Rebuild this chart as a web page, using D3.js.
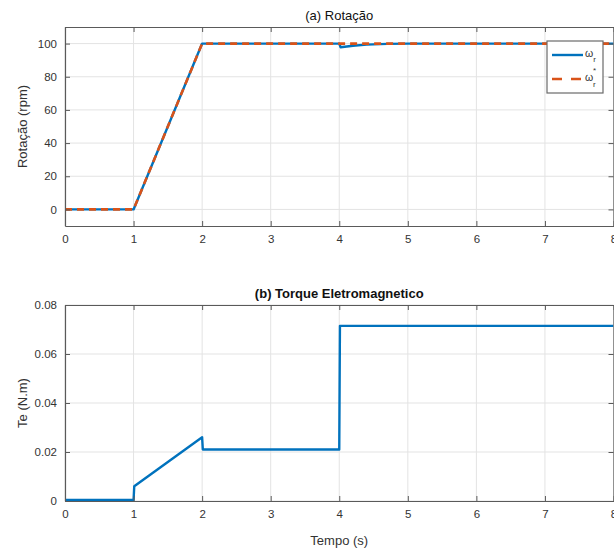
<!DOCTYPE html>
<html>
<head>
<meta charset="utf-8">
<script src="https://cdn.jsdelivr.net/npm/d3@7"></script>
<style>
  body { margin: 0; background: #fff; }
  svg { display: block; font-family: "Liberation Sans", Arial, sans-serif; }
</style>
</head>
<body>
<div id="chart"></div>
<script>
// Data
const xTicks = [0, 1, 2, 3, 4, 5, 6, 7, 8];
const rotTicks = [0, 20, 40, 60, 80, 100];
const teTicks = [0, 0.02, 0.04, 0.06, 0.08];

const rotTime = [0, 1, 2, 4, 4.02, 4.2, 4.4, 4.7, 5, 8];
const rotSpeed = [0, 0, 100, 100, 97.8, 98.7, 99.4, 99.8, 100, 100];
const refTime = [0, 1, 2, 8];
const refSpeed = [0, 0, 100, 100];

const teTime = [0, 1, 1.01, 2, 2.01, 4, 4.01, 8];
const teValue = [0.0004, 0.0004, 0.006, 0.026, 0.021, 0.021, 0.0715, 0.0715];

const width = 614, height = 551;
const blue = "#0072BD", orange = "#D95319";
const axisColor = "#5a5a5a", textColor = "#333", gridColor = "#e3e3e3";

const svg = d3.select("#chart").append("svg")
    .attr("width", width)
    .attr("height", height);

const x = d3.scaleLinear().domain([0, 8]).range([65, 613.5]);

// Draw one MATLAB-like axes panel
function panel({ id, top, bottom, yDomain, yTicks, yFormat, title, titleWeight, yLabel, xLabel }) {
    const y = d3.scaleLinear().domain(yDomain).range([bottom, top]);
    const g = svg.append("g").attr("class", id);

    // Grid
    g.append("g").selectAll("line.vg").data(xTicks).join("line")
        .attr("x1", d => x(d)).attr("x2", d => x(d))
        .attr("y1", top).attr("y2", bottom)
        .attr("stroke", gridColor).attr("stroke-width", 1);
    g.append("g").selectAll("line.hg").data(yTicks).join("line")
        .attr("y1", d => y(d)).attr("y2", d => y(d))
        .attr("x1", x.range()[0]).attr("x2", x.range()[1])
        .attr("stroke", gridColor).attr("stroke-width", 1);

    g.append("clipPath").attr("id", "clip-" + id)
        .append("rect")
        .attr("x", x.range()[0]).attr("y", top)
        .attr("width", x.range()[1] - x.range()[0]).attr("height", bottom - top);

    const plot = g.append("g").attr("clip-path", `url(#clip-${id})`);

    // Axes
    const styleAxis = sel => {
        sel.select(".domain").attr("stroke", axisColor).attr("stroke-width", 1.2);
        sel.selectAll(".tick line").attr("stroke", axisColor);
        sel.selectAll(".tick text").attr("fill", textColor).attr("font-size", 11.5);
    };

    g.append("g")
        .attr("transform", `translate(0,${bottom})`)
        .call(d3.axisBottom(x).tickValues(xTicks).tickSize(-5).tickSizeOuter(0).tickPadding(9))
        .call(styleAxis);
    g.append("g")
        .attr("transform", `translate(0,${top})`)
        .call(d3.axisTop(x).tickValues(xTicks).tickSize(-5).tickSizeOuter(0).tickFormat(""))
        .call(styleAxis);
    g.append("g")
        .attr("transform", `translate(${x.range()[0]},0)`)
        .call(d3.axisLeft(y).tickValues(yTicks).tickFormat(yFormat).tickSize(-5).tickSizeOuter(0).tickPadding(8))
        .call(styleAxis);
    g.append("g")
        .attr("transform", `translate(${x.range()[1]},0)`)
        .call(d3.axisRight(y).tickValues(yTicks).tickSize(-5).tickSizeOuter(0).tickFormat(""))
        .call(styleAxis);

    // Title and labels
    g.append("text")
        .attr("x", (x.range()[0] + x.range()[1]) / 2)
        .attr("y", top - 7)
        .attr("text-anchor", "middle")
        .attr("fill", "#111")
        .attr("font-size", 13)
        .attr("font-weight", titleWeight)
        .text(title);

    g.append("text")
        .attr("transform", "rotate(-90)")
        .attr("x", -(top + bottom) / 2)
        .attr("y", 27)
        .attr("text-anchor", "middle")
        .attr("fill", textColor)
        .attr("font-size", 13)
        .text(yLabel);

    if (xLabel) {
        g.append("text")
            .attr("x", (x.range()[0] + x.range()[1]) / 2)
            .attr("y", bottom + 44)
            .attr("text-anchor", "middle")
            .attr("fill", textColor)
            .attr("font-size", 13)
            .text(xLabel);
    }
    return { g, plot, y };
}

// (a) Rotação
const a = panel({
    id: "rot", top: 27, bottom: 226, yDomain: [-10, 110], yTicks: rotTicks,
    yFormat: d3.format("d"), title: "(a) Rotação", titleWeight: "normal",
    yLabel: "Rotação (rpm)"
});

const lineA = d3.line().x(d => x(d[0])).y(d => a.y(d[1]));
a.plot.append("path")
    .datum(d3.zip(rotTime, rotSpeed))
    .attr("d", lineA)
    .attr("fill", "none").attr("stroke", blue).attr("stroke-width", 2.4)
    .attr("stroke-linejoin", "round");
a.plot.append("path")
    .datum(d3.zip(refTime, refSpeed))
    .attr("d", lineA)
    .attr("fill", "none").attr("stroke", orange).attr("stroke-width", 2.6)
    .attr("stroke-dasharray", "7,5");

// Legend
const legend = a.g.append("g").attr("transform", "translate(547,41)");
legend.append("rect")
    .attr("width", 56).attr("height", 52)
    .attr("fill", "#fff").attr("stroke", "#6a6a6a").attr("stroke-width", 1.2);
legend.append("line")
    .attr("x1", 5).attr("x2", 36).attr("y1", 14).attr("y2", 14)
    .attr("stroke", blue).attr("stroke-width", 2.4);
legend.append("line")
    .attr("x1", 5).attr("x2", 36).attr("y1", 38).attr("y2", 38)
    .attr("stroke", orange).attr("stroke-width", 2.6).attr("stroke-dasharray", "10,9");
const lt1 = legend.append("text").attr("x", 38).attr("y", 16).attr("fill", textColor).attr("font-size", 10.5);
lt1.append("tspan").text("ω");
lt1.append("tspan").attr("dy", 5).attr("font-size", 8).text("r");
const lt2 = legend.append("text").attr("x", 38).attr("y", 40).attr("fill", textColor).attr("font-size", 10.5);
lt2.append("tspan").text("ω");
lt2.append("tspan").attr("x", 46).attr("dy", -8).attr("font-size", 8).text("*");
lt2.append("tspan").attr("x", 46).attr("dy", 14).attr("font-size", 8).text("r");

// (b) Torque Eletromagnetico
const b = panel({
    id: "te", top: 305, bottom: 501, yDomain: [0, 0.08], yTicks: teTicks,
    yFormat: d => d === 0 ? "0" : d3.format(".2f")(d), title: "(b) Torque Eletromagnetico",
    titleWeight: "bold", yLabel: "Te (N.m)", xLabel: "Tempo (s)"
});

b.plot.append("path")
    .datum(d3.zip(teTime, teValue))
    .attr("d", d3.line().x(d => x(d[0])).y(d => b.y(d[1])))
    .attr("fill", "none").attr("stroke", blue).attr("stroke-width", 2.4)
    .attr("stroke-linejoin", "round");
</script>
</body>
</html>
